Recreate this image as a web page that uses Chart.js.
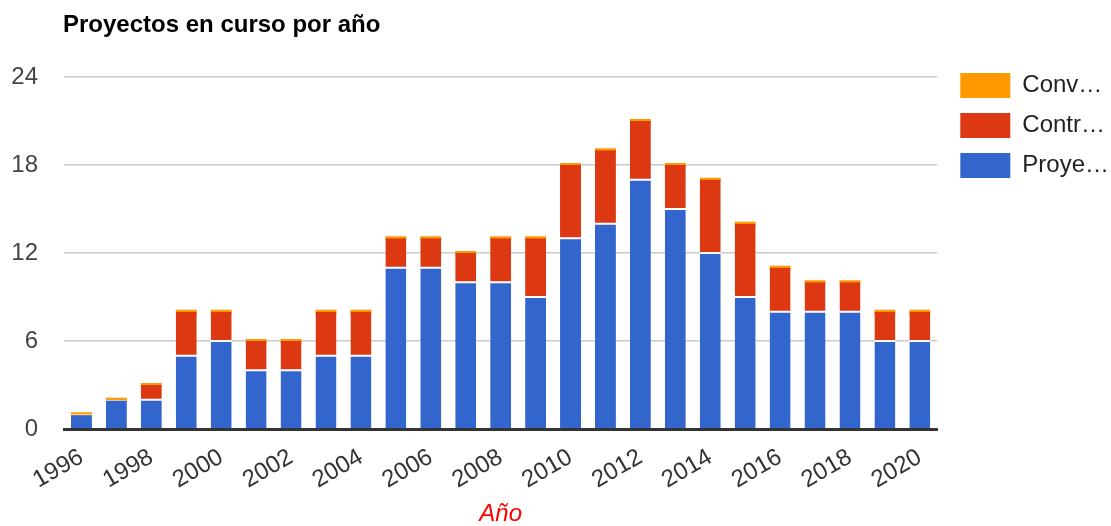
<!DOCTYPE html>
<html>
<head>
<meta charset="utf-8">
<script src="https://cdn.jsdelivr.net/npm/chart.js@4/dist/chart.umd.min.js"></script>
<style>
  body { margin: 0; background: #fff; }
  #wrap { width: 1111px; height: 526px; }
</style>
</head>
<body>
<div id="wrap"><canvas id="chart" width="1111" height="526"></canvas></div>
<script>
// Chart data
const chartTitle = 'Proyectos en curso por año';
const axisTitle = 'Año';
const years = ['1996', '1997', '1998', '1999', '2000', '2001', '2002', '2003', '2004',
    '2005', '2006', '2007', '2008', '2009', '2010', '2011', '2012', '2013', '2014',
    '2015', '2016', '2017', '2018', '2019', '2020'];
const proyectos = [1, 2, 2, 5, 6, 4, 4, 5, 5, 11, 11, 10, 10, 9, 13, 14, 17, 15, 12, 9, 8, 8, 8, 6, 6];
const contratos = [0, 0, 1, 3, 2, 2, 2, 3, 3, 2, 2, 2, 3, 4, 5, 5, 4, 3, 5, 5, 3, 2, 2, 2, 2];
const convenios = [0, 0, 0, 0, 0, 0, 0, 0, 0, 0, 0, 0, 0, 0, 0, 0, 0, 0, 0, 0, 0, 0, 0, 0, 0];
const seriesNames = ['Proye…', 'Contr…', 'Conv…'];
const yTicks = [0, 6, 12, 18, 24];

const font = "'Liberation Sans', Arial, sans-serif";
Chart.defaults.font.family = font;
Chart.defaults.font.size = 24;

// Title drawn left-aligned with the plot area, as in Google Charts
const leftTitle = {
    id: 'leftTitle',
    afterDraw(chart) {
        const ctx = chart.ctx;
        ctx.save();
        ctx.font = 'bold 24px ' + font;
        ctx.fillStyle = '#000';
        ctx.textBaseline = 'middle';
        ctx.fillText(chartTitle, chart.chartArea.left - 1, 25);
        ctx.restore();
    }
};

// move the legend so it starts a bit above the plot area, like the original
const legendShift = {
    id: 'legendShift',
    afterLayout(chart) {
        const lg = chart.legend;
        const dy = 19;
        lg.top -= dy;
        lg.bottom -= dy;
        lg.left = chart.chartArea.right + 8;
        lg.right = lg.left + lg.width;
    }
};

const common = { barPercentage: 0.6, categoryPercentage: 1, borderColor: '#fff', borderSkipped: false };

new Chart(document.getElementById('chart'), {
    type: 'bar',
    data: {
        labels: years,
        datasets: [
            {
                label: seriesNames[0], data: proyectos, backgroundColor: '#3366cc', ...common,
                borderWidth: { top: 1, bottom: 0, left: 0, right: 0 }
            },
            {
                label: seriesNames[1], data: contratos, backgroundColor: '#dc3912', ...common,
                borderWidth: { top: 0, bottom: 1, left: 0, right: 0 }
            },
            {
                // zero-valued series: Google still draws a thin cap, so give it a min length
                label: seriesNames[2], data: convenios, backgroundColor: '#ff9900', ...common,
                borderWidth: 0, minBarLength: 4
            }
        ]
    },
    options: {
        responsive: false,
        animation: false,
        layout: { padding: { top: 77, right: 0, bottom: 0, left: 0 } },
        plugins: {
            title: { display: false },
            tooltip: { enabled: false },
            legend: {
                position: 'right',
                align: 'start',
                reverse: true,
                labels: {
                    boxWidth: 50,
                    boxHeight: 25,
                    padding: 15,
                    color: '#222',
                    font: { size: 24 },
                    generateLabels: chart => Chart.defaults.plugins.legend.labels.generateLabels(chart)
                        .map(l => ({ ...l, lineWidth: 0 }))
                }
            }
        },
        scales: {
            x: {
                stacked: true,
                grid: { display: false },
                border: { display: true, color: '#333', width: 3 },
                ticks: {
                    color: '#333',
                    font: { size: 24 },
                    minRotation: 30,
                    maxRotation: 30,
                    autoSkip: false,
                    padding: 6,
                    callback: (v, i) => i % 2 === 0 ? years[i] : ''
                },
                title: {
                    display: true,
                    text: axisTitle,
                    color: '#f00',
                    font: { size: 24, style: 'italic', lineHeight: 1 },
                    padding: 0
                },
                afterFit: s => { s.height = 97; }
            },
            y: {
                stacked: true,
                min: 0,
                max: 24,
                afterBuildTicks: s => { s.ticks = yTicks.map(v => ({ value: v })); },
                grid: { color: '#ccc', lineWidth: 1.5, drawTicks: false },
                border: { display: false },
                ticks: { color: '#444', font: { size: 24 }, padding: 26 },
                afterFit: s => { s.width = 64; }
            }
        }
    },
    plugins: [leftTitle, legendShift]
});
</script>
</body>
</html>
